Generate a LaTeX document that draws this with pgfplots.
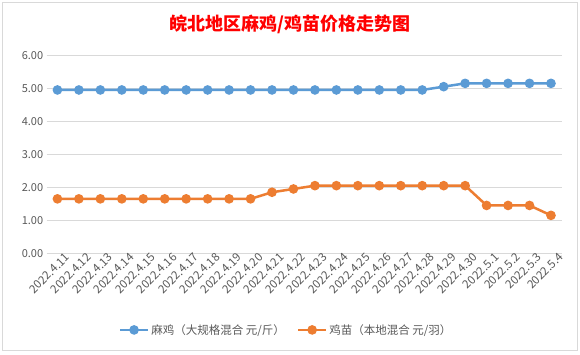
\documentclass[border=0pt]{standalone}
\usepackage{pgfplots}
\pgfplotsset{compat=1.18}
\usepackage{fontspec}
\setmainfont{Noto Sans CJK SC}
\definecolor{cblue}{HTML}{5B9BD5}
\definecolor{corange}{HTML}{ED7D31}
\definecolor{cgrid}{HTML}{D9D9D9}
\definecolor{ctext}{HTML}{595959}
\begin{document}
\begin{tikzpicture}
\useasboundingbox (0pt,0pt) rectangle (580pt,354pt);
\fill[white] (0pt,0pt) rectangle (580pt,354pt);
\draw[cgrid, line width=0.8pt] (2.5pt,4pt) rectangle (577pt,351.5pt);
\node[text=red, font=\bfseries\fontsize{18}{20}\selectfont] at (290pt,330pt) {皖北地区麻鸡/鸡苗价格走势图};
\begin{axis}[
  at={(46.7pt,100.7pt)}, anchor=south west,
  scale only axis, width=515pt, height=198pt,
  xmin=-0.5, xmax=23.5, ymin=0, ymax=6,
  ytick={0,1,2,3,4,5,6},
  xtick={0,...,23},
  xticklabels={2022.4.11,2022.4.12,2022.4.13,2022.4.14,2022.4.15,2022.4.16,2022.4.17,2022.4.18,2022.4.19,2022.4.20,2022.4.21,2022.4.22,2022.4.23,2022.4.24,2022.4.25,2022.4.26,2022.4.27,2022.4.28,2022.4.29,2022.4.30,2022.5.1,2022.5.2,2022.5.3,2022.5.4},
  x tick label style={rotate=45, anchor=north east, font=\fontsize{11.5}{12}\selectfont, text=ctext, inner sep=1pt, xshift=7pt, yshift=-3pt},
  y tick label style={font=\fontsize{11}{12}\selectfont, text=ctext},
  /pgf/number format/assume math mode=true,
  yticklabel style={/pgf/number format/.cd, fixed, fixed zerofill, precision=2},
  axis line style={draw=none},
  major tick length=0pt,
  ymajorgrids, grid style={cgrid, line width=0.8pt},
  legend style={at={(0.465,-0.387)}, anchor=center, draw=none, fill=none,
    legend columns=2, font=\fontsize{11.5}{12}\selectfont, text=ctext,
    /tikz/every even column/.append style={column sep=10pt}},
  legend image code/.code={
    \draw[#1, line width=2.5pt] (0pt,0pt) -- (28pt,0pt);
    \fill[#1] (14pt,0pt) circle (3.5pt);
  },
]
\addplot[cblue, line width=2.5pt, mark=*, mark size=3.5pt, mark options={fill=cblue, draw=cblue}] coordinates {
(0,4.95)(1,4.95)(2,4.95)(3,4.95)(4,4.95)(5,4.95)(6,4.95)(7,4.95)(8,4.95)(9,4.95)(10,4.95)(11,4.95)(12,4.95)(13,4.95)(14,4.95)(15,4.95)(16,4.95)(17,4.95)(18,5.05)(19,5.15)(20,5.15)(21,5.15)(22,5.15)(23,5.15)};
\addlegendentry{麻鸡（大规格混合 元/斤）}
\addplot[corange, line width=2.5pt, mark=*, mark size=3.5pt, mark options={fill=corange, draw=corange}] coordinates {
(0,1.65)(1,1.65)(2,1.65)(3,1.65)(4,1.65)(5,1.65)(6,1.65)(7,1.65)(8,1.65)(9,1.65)(10,1.85)(11,1.95)(12,2.05)(13,2.05)(14,2.05)(15,2.05)(16,2.05)(17,2.05)(18,2.05)(19,2.05)(20,1.45)(21,1.45)(22,1.45)(23,1.15)};
\addlegendentry{鸡苗（本地混合 元/羽）}
\end{axis}
\end{tikzpicture}
\end{document}
